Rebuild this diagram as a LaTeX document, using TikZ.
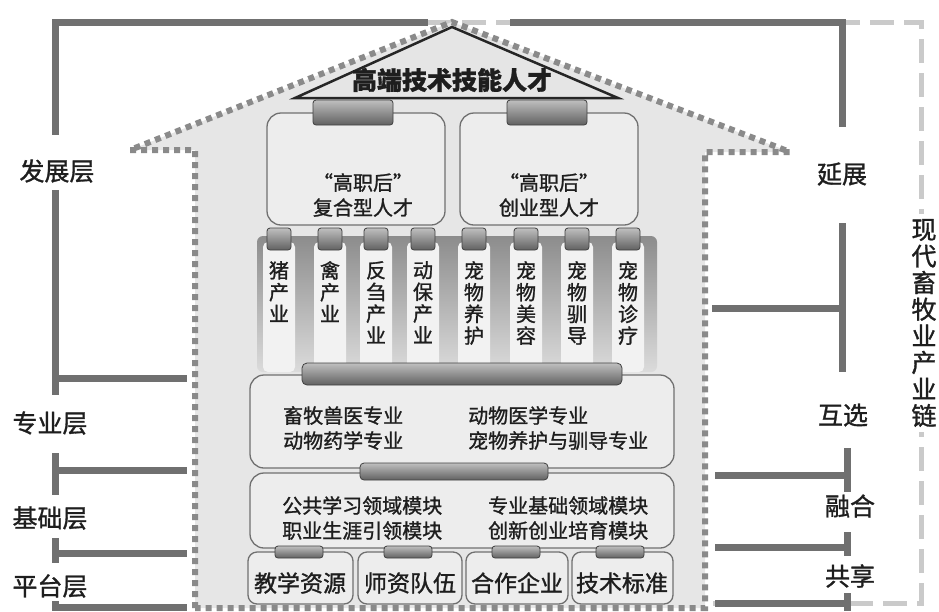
\documentclass[tikz,border=0pt]{standalone}
\usepackage{fontspec}
\setmainfont{Noto Sans CJK SC}[FakeBold=1.2]
\definecolor{barline}{HTML}{707070}
\definecolor{chainline}{HTML}{CACACA}
\definecolor{dotline}{HTML}{8A8A8A}
\definecolor{housefill}{HTML}{E6E6E6}
\definecolor{boxfill}{HTML}{EDEDED}
\definecolor{inktext}{HTML}{1E1E1E}

\begin{document}
\begin{tikzpicture}[x=1pt,y=-1pt,
        bracket/.style={barline,line width=7pt},
        layer/.style={text=inktext,inner sep=0pt,font=\fontsize{25}{27}\selectfont},
        box/.style={draw=barline,fill=boxfill,line width=1.3pt,rounded corners=14pt},
        capbar/.style={draw=black!75,line width=0.8pt,rounded corners=3pt,top color=black!25,bottom color=black!62},
        boxtext/.style={text=inktext,inner sep=0pt,align=left,font=\fontsize{20}{25}\selectfont},
        coltext/.style={text=inktext,inner sep=0pt,align=center,anchor=north,font=\fontsize{20}{21.7}\selectfont}]
    \useasboundingbox (0,0) rectangle (939,611);

    % industry chain frame
    \draw[chainline,line width=5pt,dash pattern=on 24pt off 10pt] (428,22) -- (921,22) -- (921,603) -- (690,603);

    % house
    \fill[housefill] (195,608) -- (195,150) -- (130,150) -- (452,22) -- (790,152) -- (705,152) -- (705,608) -- cycle;
    \draw[dotline,line width=6pt,dash pattern=on 6pt off 5pt] (195,608) -- (195,150) -- (130,150) -- (452,22) -- (790,152) -- (705,152) -- (705,608) -- cycle;

    % left layers
    \node[layer] (fazhan) at (57,171) {发展层};
    \node[layer] (zhuanye) at (50,423) {专业层};
    \node[layer] (jichu) at (50,518) {基础层};
    \node[layer] (pingtai) at (50,586) {平台层};
    \draw[bracket] (428,22) -- (55,22) -- (55,135);
    \draw[bracket] (55,190) -- (55,395);
    \draw[bracket] (55,378) -- (187,378);
    \draw[bracket] (55,453) -- (55,495);
    \draw[bracket] (55,470) -- (187,470);
    \draw[bracket] (55,538) -- (55,563);
    \draw[bracket] (55,553) -- (187,553);
    \draw[bracket] (55,601) -- (55,611);
    \draw[bracket] (55,607) -- (187,607);

    % right links
    \node[layer] (yanzhan) at (842,174) {延展};
    \node[layer] (huxuan) at (843,415) {互选};
    \node[layer] (ronghe) at (850,506) {融合};
    \node[layer] (gongxiang) at (850,576) {共享};
    \draw[bracket] (510,22) -- (842,22) -- (842,127);
    \draw[bracket] (842,223) -- (842,372);
    \draw[bracket] (712,308) -- (842,308);
    \draw[bracket] (847,448) -- (847,492);
    \draw[bracket] (715,475) -- (847,475);
    \draw[bracket] (847,532) -- (847,556);
    \draw[bracket] (715,547) -- (847,547);
    \draw[bracket] (847,593) -- (847,611);
    \draw[bracket] (715,603) -- (847,603);
    \node[layer,fill=white,align=center,inner ysep=5pt,font=\fontsize{25}{26.6}\selectfont] (chain) at (924,323) {现\\代\\畜\\牧\\业\\产\\业\\链};

    % roof
    \draw[black!85,line width=2.5pt,fill=black!10,line join=miter] (295,98) -- (452,27) -- (618,98) -- cycle;
    \node[text=inktext,font=\fontsize{25}{27}\selectfont\bfseries] (talent) at (452,80) {高端技术技能人才};

    % talent boxes
    \draw[box] (267,113) rectangle (445,225);
    \draw[box] (460,113) rectangle (638,225);
    \foreach \cx in {353,547}
        {
            \draw[capbar] (\cx-40,100) rectangle (\cx+40,125);
        }
    \node[boxtext,align=center] (fuhe) at (363,195) {“高职后”\\复合型人才};
    \node[boxtext,align=center] (chuangye) at (549,195) {“高职后”\\创业型人才};

    % industry columns
    \shade[top color=black!45,bottom color=black!14,rounded corners=6pt] (257,236) rectangle (657,372);
    \foreach \cx/\txt [count=\i] in {279/猪\\产\\业, 330/禽\\产\\业, 376/反\\刍\\产\\业, 423/动\\保\\产\\业,
            474/宠\\物\\养\\护, 526/宠\\物\\美\\容, 577/宠\\物\\驯\\导, 628/宠\\物\\诊\\疗}
        {
            \fill[black!5,rounded corners=5pt] (\cx-16,242) rectangle (\cx+16,372);
            \draw[capbar] (\cx-12,228) rectangle (\cx+12,250);
            \node[coltext] (col\i) at (\cx,261) {\txt};
        }

    % majors and modules
    \draw[box] (250,375) rectangle (674,468);
    \draw[box] (250,473) rectangle (674,548);
    \foreach \lx/\rx in {248/353, 358/462, 466/568, 572/673}
        {
            \draw[box,rounded corners=9pt] (\lx,552) rectangle (\rx,604);
        }
    \draw[capbar,rounded corners=5pt] (302,363) rectangle (622,385);
    \draw[capbar,rounded corners=4pt] (360,463) rectangle (548,480);
    \foreach \cx in {299,408,516,620}
        {
            \draw[capbar] (\cx-24,546) rectangle (\cx+24,558);
        }

    \node[boxtext,anchor=west] (majorl) at (283,428) {畜牧兽医专业\\动物药学专业};
    \node[boxtext,anchor=west] (majorr) at (468,428) {动物医学专业\\宠物养护与驯导专业};
    \node[boxtext,anchor=west] (modl) at (282,518) {公共学习领域模块\\职业生涯引领模块};
    \node[boxtext,anchor=west] (modr) at (488,518) {专业基础领域模块\\创新创业培育模块};

    \node[layer,font=\fontsize{23}{25}\selectfont] (jiaoxue) at (300,583) {教学资源};
    \node[layer,font=\fontsize{23}{25}\selectfont] (shizi) at (410,583) {师资队伍};
    \node[layer,font=\fontsize{23}{25}\selectfont] (hezuo) at (517,583) {合作企业};
    \node[layer,font=\fontsize{23}{25}\selectfont] (jishu) at (622,583) {技术标准};
\end{tikzpicture}
\end{document}
